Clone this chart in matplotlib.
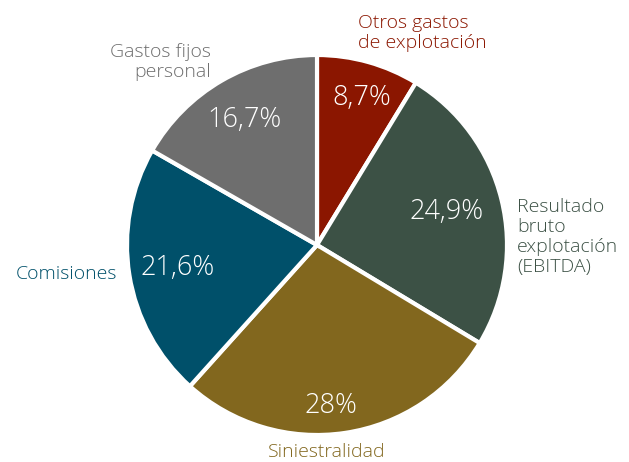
import matplotlib.pyplot as plt

# --- datos ---
categorias = ['Otros gastos\nde explotación', 'Resultado\nbruto\nexplotación\n(EBITDA)',
              'Siniestralidad', 'Comisiones', 'Gastos fijos\npersonal']
valores = [8.7, 24.9, 28.0, 21.6, 16.7]
etiquetas_pct = ['8,7%', '24,9%', '28%', '21,6%', '16,7%']
colores = ['#8B1600', '#3C5145', '#82671E', '#00506A', '#6E6E6E']

plt.rcParams['font.family'] = ['Open Sans', 'DejaVu Sans']

fig = plt.figure(figsize=(6.29, 4.62), dpi=100)
W, H = 629, 462
cx, cy, r = 317, 245, 190
ax = fig.add_axes([(cx - r) / W, (H - cy - r) / H, 2 * r / W, 2 * r / H])

ax.pie(valores, colors=colores, startangle=90, counterclock=False, radius=1,
       wedgeprops=dict(edgecolor='white', linewidth=3))
ax.set_xlim(-1, 1)
ax.set_ylim(-1, 1)
ax.set_aspect('equal')
ax.axis('off')

# posiciones de las etiquetas de porcentaje (en unidades del radio)
pos_pct = [(0.237, 0.774), (0.684, 0.174), (0.074, -0.847), (-0.732, -0.121), (-0.384, 0.658)]
for (x, y), t in zip(pos_pct, etiquetas_pct):
    ax.text(x, y, t, color='white', fontsize=19.5, fontweight='light', ha='center', va='center')

# etiquetas de categoría
pos_cat = [(0.216, 1.115, 'left'), (1.053, 0.042, 'left'), (0.053, -1.09, 'center'),
           (-1.053, -0.153, 'right'), (-0.558, 0.963, 'right')]
for (x, y, ha), cat, c in zip(pos_cat, categorias, colores):
    ax.text(x, y, cat, color=c, fontsize=14, fontweight='light', ha=ha, va='center',
            multialignment=ha, linespacing=1.12, clip_on=False)

fig.savefig('out.png', dpi=100)
